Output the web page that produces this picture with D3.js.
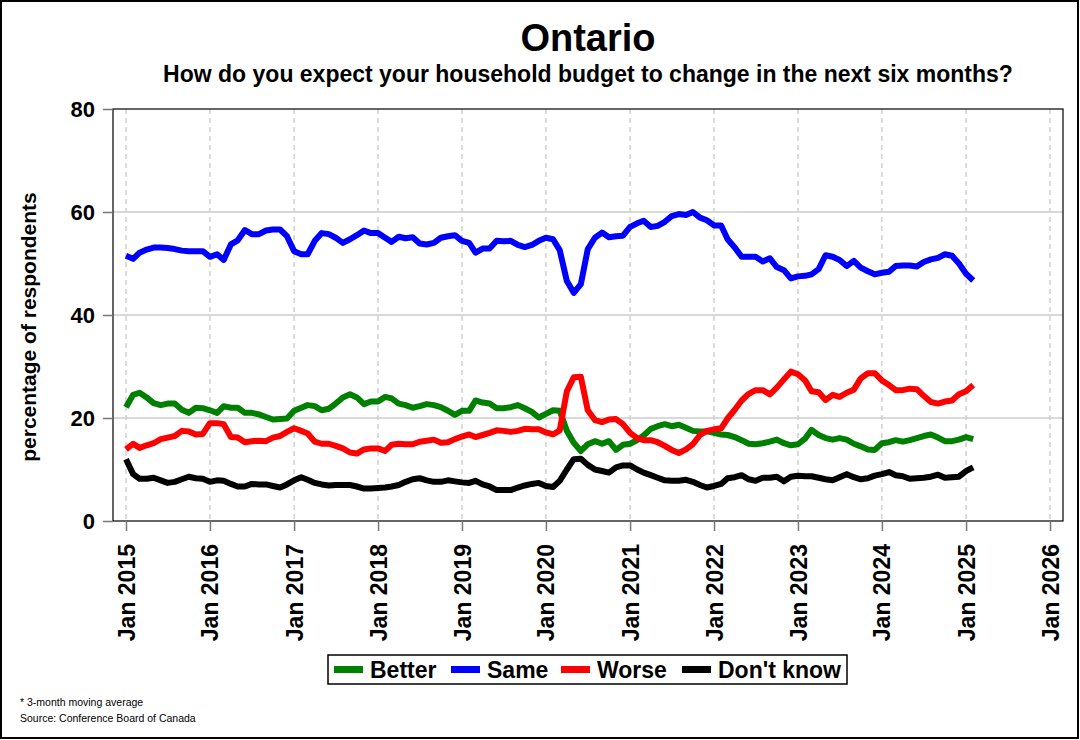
<!DOCTYPE html>
<html>
<head>
<meta charset="utf-8">
<script src="https://cdn.jsdelivr.net/npm/d3@7"></script>
<style>
  html, body { margin: 0; padding: 0; background: #fff; }
  svg { display: block; font-family: "Liberation Sans", Arial, sans-serif; }
</style>
</head>
<body>
<svg id="chart" width="1080" height="740"></svg>
<script>
// ---- Data (monthly, Jan 2015 .. Feb 2025, 3-month moving average) ----
const startYear = 2015, startMonth = 0;
const seriesNames = ["Better", "Same", "Worse", "Don't know"];
const seriesColors = ["#008000", "#0000ff", "#ff0000", "#000000"];

const better = [22.1,24.5,24.9,24.0,22.9,22.5,22.8,22.8,21.6,21.0,22.0,21.9,
21.5,21.0,22.3,22.0,22.0,21.0,21.0,20.7,20.2,19.7,19.8,19.9,
21.4,22.0,22.5,22.3,21.5,21.8,22.8,24.0,24.6,24.0,22.7,23.2,
23.2,24.1,23.8,22.8,22.5,22.0,22.3,22.7,22.5,22.1,21.4,20.6,
21.4,21.4,23.4,23.0,22.8,21.9,21.9,22.1,22.5,21.9,21.2,20.1,
20.8,21.5,21.4,17.5,15.2,13.6,14.9,15.5,15.0,15.5,13.8,14.8,
15.0,15.7,16.6,17.9,18.4,18.8,18.4,18.7,18.1,17.5,17.4,17.4,
17.1,16.8,16.7,16.3,15.7,15.0,14.9,15.1,15.4,15.8,15.1,14.7,
14.9,16.0,17.7,16.7,16.1,15.8,16.1,15.8,15.0,14.5,13.9,13.8,
15.1,15.3,15.7,15.4,15.7,16.1,16.5,16.8,16.2,15.5,15.5,15.8,
16.3,15.9];

const same = [51.5,50.9,52.1,52.7,53.1,53.1,53.0,52.8,52.5,52.4,52.4,52.4,
51.3,51.8,50.7,53.7,54.5,56.5,55.7,55.7,56.4,56.6,56.6,55.3,
52.4,51.8,51.8,54.4,55.9,55.7,55.0,54.0,54.7,55.5,56.4,55.9,
55.9,55.0,54.2,55.2,54.9,55.1,53.9,53.7,54.0,55.0,55.3,55.5,
54.4,54.0,52.1,52.9,52.9,54.4,54.3,54.4,53.6,53.2,53.6,54.4,
55.0,54.7,52.6,46.6,44.3,46.0,52.8,55.0,56.0,55.1,55.3,55.4,
57.1,57.8,58.3,57.1,57.3,58.1,59.2,59.6,59.4,60.0,58.9,58.4,
57.4,57.4,54.7,53.1,51.3,51.3,51.3,50.4,51.0,49.3,48.7,47.1,
47.5,47.6,47.9,48.9,51.6,51.3,50.7,49.5,50.5,49.2,48.5,47.9,
48.2,48.4,49.5,49.6,49.6,49.4,50.3,50.8,51.1,51.8,51.5,50.0,
48.0,46.7];

const worse = [13.9,15.0,14.2,14.7,15.1,15.9,16.2,16.5,17.5,17.4,16.8,16.9,
19.0,19.0,18.8,16.3,16.2,15.3,15.5,15.6,15.5,16.2,16.5,17.3,
18.0,17.5,17.0,15.4,15.0,15.0,14.6,14.1,13.3,13.1,13.9,14.1,
14.1,13.6,14.8,15.0,14.9,14.9,15.4,15.6,15.8,15.2,15.3,15.9,
16.4,16.8,16.3,16.7,17.1,17.6,17.5,17.3,17.5,17.9,17.8,17.8,
17.2,16.8,17.6,25.2,27.9,28.0,21.5,19.6,19.2,19.7,19.8,18.8,
17.1,16.1,15.7,15.7,15.3,14.6,13.8,13.2,13.9,14.9,16.7,17.5,
17.8,18.0,19.9,21.6,23.4,24.7,25.4,25.4,24.6,25.9,27.5,29.0,
28.5,27.3,25.2,25.0,23.5,24.5,24.1,24.9,25.5,27.7,28.7,28.7,
27.3,26.4,25.4,25.4,25.7,25.6,24.3,23.1,22.8,23.2,23.4,24.6,
25.2,26.4];

const dontKnow = [12.0,9.1,8.2,8.2,8.4,7.9,7.4,7.6,8.1,8.6,8.3,8.2,
7.6,7.9,7.8,7.2,6.7,6.7,7.2,7.1,7.1,6.8,6.5,7.1,
7.9,8.5,8.0,7.4,7.1,6.9,7.0,7.0,7.0,6.7,6.3,6.3,
6.4,6.5,6.7,7.0,7.6,8.1,8.3,7.9,7.6,7.6,7.9,7.7,
7.5,7.4,7.8,7.1,6.7,6.0,6.0,6.0,6.5,6.9,7.2,7.4,
6.8,6.6,7.8,10.0,12.0,12.1,10.9,10.0,9.7,9.4,10.4,10.8,
10.8,10.0,9.4,8.9,8.4,7.9,7.8,7.8,8.0,7.6,7.0,6.5,
6.8,7.2,8.3,8.5,8.9,8.1,7.8,8.4,8.4,8.6,7.7,8.6,
8.8,8.7,8.7,8.4,8.1,7.9,8.5,9.1,8.5,8.1,8.3,8.8,
9.1,9.5,8.9,8.7,8.2,8.3,8.4,8.6,9.0,8.4,8.5,8.6,
9.7,10.4];

const yTicks = [0, 20, 40, 60, 80];
const xTickYears = d3.range(2015, 2027);
const title = "Ontario";
const subtitle = "How do you expect your household budget to change in the next six months?";
const yLabel = "percentage of respondents";
const notes = ["* 3-month moving average", "Source: Conference Board of Canada"];

// ---- Build ----
const dates = better.map((_, i) => new Date(startYear, startMonth + i, 1));
const seriesData = [better, same, worse, dontKnow];

const svg = d3.select("#chart");
const W = 1080, H = 740;
const plot = { left: 113, right: 1063, top: 109, bottom: 521 };

const x = d3.scaleTime()
  .domain([new Date(2015, 0, 1), new Date(2026, 0, 1)])
  .range([126, 1050]);
const y = d3.scaleLinear().domain([0, 80]).range([plot.bottom, plot.top]);

// outer border
svg.append("rect").attr("x", 1).attr("y", 1).attr("width", W - 3).attr("height", H - 3)
  .attr("fill", "none").attr("stroke", "#000").attr("stroke-width", 2);

// titles
svg.append("text").attr("x", 588).attr("y", 51).attr("text-anchor", "middle")
  .attr("font-size", 38).attr("font-weight", "bold").text(title);
svg.append("text").attr("x", 588).attr("y", 82).attr("text-anchor", "middle")
  .attr("font-size", 23).attr("font-weight", "bold").text(subtitle);

// horizontal grid
svg.append("g").selectAll("line").data(yTicks.filter(d => d > 0 && d < 80)).join("line")
  .attr("x1", plot.left).attr("x2", plot.right)
  .attr("y1", d => y(d)).attr("y2", d => y(d))
  .attr("stroke", "#d9d9d9").attr("stroke-width", 2);

// vertical dashed grid
const xTickDates = xTickYears.map(yy => new Date(yy, 0, 1));
svg.append("g").selectAll("line").data(xTickDates).join("line")
  .attr("x1", d => x(d)).attr("x2", d => x(d))
  .attr("y1", plot.top).attr("y2", plot.bottom)
  .attr("stroke", "#d0d0d0").attr("stroke-width", 1.5).attr("stroke-dasharray", "5,4");

// frame
svg.append("rect").attr("x", plot.left).attr("y", plot.top)
  .attr("width", plot.right - plot.left).attr("height", plot.bottom - plot.top)
  .attr("fill", "none").attr("stroke", "#000").attr("stroke-width", 1.2);

// y axis
const yAxis = d3.axisLeft(y).tickValues(yTicks).tickSize(10).tickPadding(8);
const gy = svg.append("g").attr("transform", `translate(${plot.left},0)`).call(yAxis);
gy.select(".domain").remove();
gy.selectAll(".tick line").attr("stroke", "#777").attr("stroke-width", 1.5);
gy.selectAll(".tick text").attr("font-size", 22).attr("font-weight", "bold")
  .attr("fill", "#000").attr("font-family", "Liberation Sans, Arial, sans-serif");

// x axis
const xAxis = d3.axisBottom(x).tickValues(xTickDates).tickSize(10)
  .tickFormat(d => "Jan " + d.getFullYear());
const gx = svg.append("g").attr("transform", `translate(0,${plot.bottom})`).call(xAxis);
gx.select(".domain").remove();
gx.selectAll(".tick line").attr("stroke", "#777").attr("stroke-width", 1.5);
gx.selectAll(".tick text")
  .attr("font-size", 23).attr("font-weight", "bold").attr("fill", "#000")
  .attr("font-family", "Liberation Sans, Arial, sans-serif")
  .attr("text-anchor", "end").attr("dy", "0.35em")
  .attr("transform", "translate(0,23) rotate(-90)")
  .attr("x", 0).attr("y", 0);

// y label
svg.append("text").attr("transform", "translate(36,327) rotate(-90)")
  .attr("text-anchor", "middle").attr("font-size", 21).attr("font-weight", "bold")
  .text(yLabel);

// lines
const line = d3.line().x((d, i) => x(dates[i])).y(d => y(d));
svg.append("g").selectAll("path").data(seriesData).join("path")
  .attr("d", d => line(d))
  .attr("fill", "none")
  .attr("stroke", (d, i) => seriesColors[i])
  .attr("stroke-width", 6)
  .attr("stroke-linejoin", "round");

// legend
const leg = svg.append("g");
leg.append("rect").attr("x", 328).attr("y", 655).attr("width", 519).attr("height", 29)
  .attr("fill", "#fff").attr("stroke", "#000").attr("stroke-width", 1.5);
const legX = [334, 451, 561, 682];
const items = leg.selectAll("g.item").data(seriesNames).join("g").attr("class", "item")
  .attr("transform", (d, i) => `translate(${legX[i]},0)`);
items.append("rect").attr("x", 0).attr("y", 666).attr("width", 29).attr("height", 7)
  .attr("fill", (d, i) => seriesColors[i]);
items.append("text").attr("x", 36).attr("y", 678).attr("font-size", 23)
  .attr("font-weight", "bold").text(d => d);

// notes
svg.append("g").selectAll("text").data(notes).join("text")
  .attr("x", 20).attr("y", (d, i) => 706 + i * 16)
  .attr("font-size", 10.5).text(d => d);
</script>
</body>
</html>
